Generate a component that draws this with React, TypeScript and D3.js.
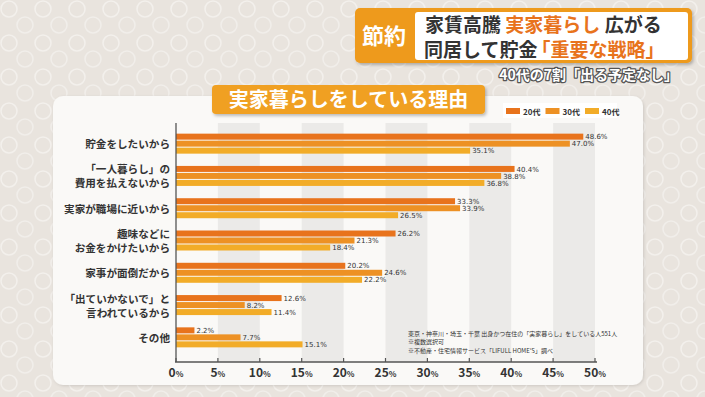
import React from "react";
import * as d3 from "d3";

const categories = [
  ["貯金をしたいから"],
  ["「一人暮らし」の", "費用を払えないから"],
  ["実家が職場に近いから"],
  ["趣味などに", "お金をかけたいから"],
  ["家事が面倒だから"],
  ["「出ていかないで」と", "言われているから"],
  ["その他"],
];
const seriesNames = ["20代", "30代", "40代"];
const values20 = [48.6, 40.4, 33.3, 26.2, 20.2, 12.6, 2.2];
const values30 = [47.0, 38.8, 33.9, 21.3, 24.6, 8.2, 7.7];
const values40 = [35.1, 36.8, 26.5, 18.4, 22.2, 11.4, 15.1];
const ticks = [0, 5, 10, 15, 20, 25, 30, 35, 40, 45, 50];
const colors = ["#E8731C", "#ED9124", "#F2AC28"];
const notes = [
  "東京・神奈川・埼玉・千葉 出身かつ在住の「実家暮らし」をしている人551人",
  "※複数選択可",
  "※不動産・住宅情報サービス「LIFULL HOME'S」調べ",
];

const FONT = "'Noto Sans CJK JP', 'Noto Sans', sans-serif";

export default function App() {
  const W = 705, H = 397;
  const x = d3.scaleLinear().domain([0, 50]).range([176, 595]);
  const keys = categories.map((_, i) => String(i));
  const y = d3.scaleBand().domain(keys).range([128, 354]);
  const inner = d3.scaleBand().domain(seriesNames).range([0, 21]);
  const allValues = [values20, values30, values40];
  const off = (y.bandwidth() - 21) / 2;

  return (
    <svg width={W} height={H} style={{ position: "absolute", left: 0, top: 0 }} fontFamily={FONT}>
      <defs>
        <pattern id="circ" width="34" height="34" patternUnits="userSpaceOnUse">
          <rect width="34" height="34" fill="#e9e4de" />
          <circle cx="9" cy="9" r="8" fill="none" stroke="#f3f0ec" strokeWidth="1.6" />
          <circle cx="25" cy="25" r="8" fill="none" stroke="#f1eeea" strokeWidth="1.6" />
        </pattern>
        <filter id="sh" x="-10%" y="-20%" width="130%" height="160%">
          <feDropShadow dx="1.5" dy="2" stdDeviation="1.5" floodColor="#000" floodOpacity="0.25" />
        </filter>
        <filter id="sh2" x="-5%" y="-5%" width="110%" height="110%">
          <feDropShadow dx="1" dy="1" stdDeviation="1.5" floodColor="#000" floodOpacity="0.12" />
        </filter>
      </defs>
      <rect width={W} height={H} fill="url(#circ)" />

      {/* header */}
      <rect x={355} y={8} width={337} height={55} rx={5} fill="#EE9A1E" filter="url(#sh)" />
      <rect x={415} y={12} width={273} height={48} rx={3} fill="#ffffff" />
      <text x={384} y={44} textAnchor="middle" fill="#fff" fontSize={22} fontWeight={700}>節約</text>
      <text x={425} y={32} fill="#333" fontSize={19} fontWeight={700}>
        家賃高騰 <tspan fill="#E8731C">実家暮らし</tspan> 広がる
      </text>
      <text x={424} y={57} fill="#333" fontSize={19} fontWeight={700}>
        同居して貯金<tspan fill="#E8731C" dx={-6}>「重要な戦略」</tspan>
      </text>
      <text x={678} y={80} textAnchor="end" fontSize={14} fontWeight={700} fill="#fff"
        stroke="#555" strokeWidth={2.5} paintOrder="stroke" strokeLinejoin="round">
        40代の7割「出る予定なし」
      </text>

      {/* panel */}
      <rect x={53} y={96} width={590} height={289} rx={10} fill="#faf9f7" filter="url(#sh2)" />

      {/* grid bands */}
      {ticks.slice(0, -1).map((t, i) =>
        i % 2 === 1 ? (
          <rect key={t} x={x(t)} y={123} width={x(t + 5) - x(t)} height={362 - 123} fill="#ebeae8" />
        ) : null
      )}

      {/* title */}
      <rect x={212} y={85} width={273} height={29} rx={4} fill="#F0A021" filter="url(#sh)" />
      <text x={348.5} y={107} textAnchor="middle" fill="#fff" fontSize={20} fontWeight={700}>
        実家暮らしをしている理由
      </text>

      {/* legend */}
      <rect x={503} y={103} width={114} height={15} fill="#ffffff" />
      {seriesNames.map((s, i) => (
        <g key={s}>
          <rect x={506 + i * 39.5} y={108} width={14} height={6} fill={colors[i]} />
          <text x={523 + i * 39.5} y={114.5} fontSize={8} fontWeight={700} fill="#333">{s}</text>
        </g>
      ))}

      {/* bars */}
      {keys.map((k, ci) =>
        seriesNames.map((s, si) => {
          const v = allValues[si][ci];
          const by = (y(k) as number) + off + (inner(s) as number);
          return (
            <g key={k + s}>
              <rect x={x(0)} y={by} width={x(v) - x(0)} height={6} fill={colors[si]} />
              <text x={x(v) + 2} y={by + 5.6} fontSize={7} fill="#333" fontFamily="'DejaVu Sans', sans-serif">
                {v.toFixed(1)}%
              </text>
            </g>
          );
        })
      )}

      {/* category labels */}
      {categories.map((lines, ci) => {
        const cy = (y(keys[ci]) as number) + y.bandwidth() / 2;
        const lh = 14;
        const start = cy - ((lines.length - 1) * lh) / 2;
        return lines.map((l, li) => (
          <text key={ci + "-" + li} x={170} y={start + li * lh + 4} textAnchor="end"
            fontSize={10.6} fontWeight={700} fill="#333">
            {l}
          </text>
        ));
      })}

      {/* axes */}
      <line x1={176} x2={176} y1={123} y2={362} stroke="#555" strokeWidth={1.3} />
      <line x1={175} x2={597} y1={362} y2={362} stroke="#555" strokeWidth={1.3} />
      {ticks.map((t) => (
        <g key={t}>
          <line x1={x(t)} x2={x(t)} y1={358} y2={362} stroke="#555" strokeWidth={1.2} />
          <text x={x(t)} y={377} textAnchor="middle" fill="#333" fontWeight={700} fontSize={12}>
            {t}<tspan fontSize={8}>%</tspan>
          </text>
        </g>
      ))}

      {/* notes */}
      {notes.map((n, i) => (
        <text key={i} x={408} y={[336, 343.5, 353][i]} fontSize={6} fill="#333">{n}</text>
      ))}
    </svg>
  );
}
